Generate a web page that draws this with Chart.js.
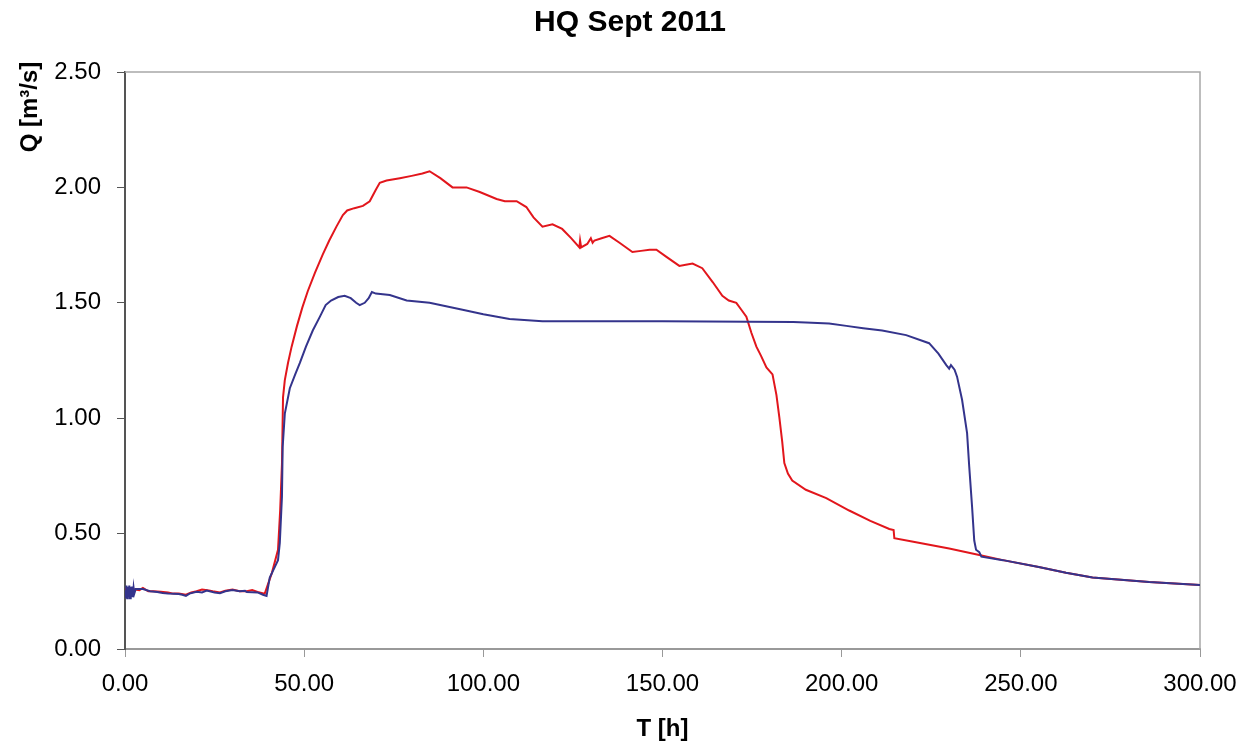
<!DOCTYPE html>
<html>
<head>
<meta charset="utf-8">
<title>HQ Sept 2011</title>
<script src="https://cdn.jsdelivr.net/npm/chart.js@4.4.1/dist/chart.umd.min.js"></script>
<style>
  html, body { margin: 0; padding: 0; background: #fff; }
  #wrap { width: 1242px; height: 744px; }
</style>
</head>
<body>
<div id="wrap"><canvas id="chartCanvas" width="1242" height="744"></canvas></div>
<script>
// Werte
const titleText = "HQ Sept 2011";
const xTitle = "T [h]";
const yTitle = "Q [m³/s]";

const redT = [0, 2, 4, 5, 6.5, 8, 10, 12, 13.5, 15, 17, 18.5, 20, 21.5, 23, 24.5, 26.5, 28, 30, 32, 34, 35.5, 37, 39, 41, 42.7, 43.3, 43.8, 44.1, 44.6,
  45.5, 46.5, 48, 49.5, 51, 53, 55.2, 57, 59, 60.8, 62, 64, 66.4, 68.3, 70, 71.1, 73, 76.7, 80, 83, 85, 88, 91.4, 95.3, 99, 103.7, 106, 109.3, 112, 114,
  116.5, 119.3, 122, 124.5, 126.8, 127, 127.3, 129, 130, 130.5, 131, 133, 135.2, 138, 141.6, 144, 146.4, 148.3, 151, 154.7, 156.5, 158.4, 161.1,
  164, 166.7, 168.5, 170.6, 172, 173.4, 174.8, 176.2, 177.5, 179, 180.7, 181.8, 182.6, 183.4, 184, 185, 186.2, 190, 195.7, 202.1, 208, 213.3,
  214.5, 214.7, 220, 230, 238.4, 245, 255, 262.6, 270, 285.8, 300];
const redQ = [0.26, 0.26, 0.255, 0.265, 0.25, 0.25, 0.248, 0.245, 0.24, 0.24, 0.235, 0.245, 0.25, 0.258, 0.255, 0.25, 0.245, 0.252, 0.258, 0.25, 0.25, 0.255, 0.247, 0.24, 0.33, 0.43, 0.6, 0.8, 1.09, 1.165,
  1.24, 1.31, 1.4, 1.48, 1.55, 1.63, 1.71, 1.77, 1.83, 1.88, 1.9, 1.91, 1.92, 1.94, 1.99, 2.02, 2.03, 2.04, 2.05, 2.06, 2.07, 2.04, 2.0, 2.0, 1.98, 1.95, 1.94, 1.94, 1.915, 1.87,
  1.83, 1.84, 1.82, 1.78, 1.74, 1.77, 1.74, 1.755, 1.78, 1.76, 1.77, 1.78, 1.79, 1.76, 1.72, 1.725, 1.73, 1.73, 1.7, 1.66, 1.665, 1.67, 1.65,
  1.59, 1.53, 1.51, 1.5, 1.47, 1.44, 1.37, 1.31, 1.27, 1.22, 1.19, 1.1, 1.005, 0.9, 0.806, 0.76, 0.73, 0.69, 0.654, 0.6, 0.555, 0.52,
  0.515, 0.48, 0.465, 0.435, 0.407, 0.385, 0.355, 0.33, 0.31, 0.29, 0.277];

const blueT = [0, 0.2, 0.4, 0.6, 0.8, 1, 1.2, 1.4, 1.6, 1.8, 2, 2.2, 2.4, 2.6, 3, 4, 5, 7, 9, 10.5, 12, 15, 16, 17, 18, 20, 21.5, 22.8, 25, 26.5, 28, 30, 32, 33.5, 34, 37, 38.5, 39.5,
  40.4, 42.7, 43.2, 43.8, 44, 44.6, 46, 47.5, 48.8, 50.5, 52.4, 54.4, 56, 57.5, 59.5, 61.3, 63, 64.5, 65.5, 66.9, 68, 68.9, 70, 73.9, 78.6, 85,
  94.2, 100, 107.3, 116.5, 150, 186.5, 190, 196.5, 201.3, 206, 211.3, 218, 224.4, 227, 229.2, 230, 230.5, 231.5, 232.2,
  233.6, 235, 235.6, 236.4, 237, 237.5, 238.4, 239, 245, 255, 262.6, 270, 285.8, 300];
const blueQ = [0.25, 0.22, 0.275, 0.22, 0.27, 0.225, 0.275, 0.22, 0.27, 0.225, 0.27, 0.225, 0.265, 0.24, 0.26, 0.26, 0.26, 0.25, 0.247, 0.243, 0.24, 0.238, 0.235, 0.23, 0.24, 0.248, 0.245, 0.253, 0.245, 0.242, 0.25, 0.256, 0.25, 0.252, 0.247, 0.245, 0.235, 0.23,
  0.31, 0.385, 0.46, 0.66, 0.875, 1.02, 1.13, 1.19, 1.24, 1.31, 1.38, 1.44, 1.49, 1.51, 1.525, 1.53, 1.52, 1.5, 1.49, 1.5, 1.52, 1.547, 1.54, 1.534, 1.51, 1.5,
  1.47, 1.45, 1.43, 1.42, 1.42, 1.417, 1.415, 1.41, 1.4, 1.39, 1.38, 1.36, 1.325, 1.28, 1.23, 1.215, 1.23, 1.21, 1.18,
  1.08, 0.935, 0.79, 0.615, 0.47, 0.43, 0.42, 0.4, 0.385, 0.355, 0.33, 0.31, 0.29, 0.277];

const xTicks = [0, 50, 100, 150, 200, 250, 300];
const yTicks = [0, 0.5, 1, 1.5, 2, 2.5];

const toPoints = (ts, qs) => ts.map((t, i) => ({ x: t, y: qs[i] }));

const fontFamily = "'Liberation Sans', Arial, sans-serif";
Chart.defaults.font.family = fontFamily;
Chart.defaults.color = "#000";

// Rahmen oben/rechts und Beschriftungen an Excel-Positionen
const frame = {
  id: "frame",
  beforeDatasetsDraw(chart) {
    const { ctx, chartArea: a } = chart;
    ctx.save();
    ctx.strokeStyle = "#a8a8a8";
    ctx.lineWidth = 1.5;
    ctx.beginPath();
    ctx.moveTo(a.left, a.top);
    ctx.lineTo(a.right, a.top);
    ctx.lineTo(a.right, a.bottom);
    ctx.stroke();
    ctx.restore();
  },
  afterDraw(chart) {
    const ctx = chart.ctx;
    ctx.save();
    ctx.fillStyle = "#000";
    ctx.textAlign = "center";
    ctx.textBaseline = "middle";
    ctx.font = "bold 30px " + fontFamily;
    ctx.fillText(titleText, 630, 23);
    ctx.translate(30, 107);
    ctx.rotate(-Math.PI / 2);
    ctx.font = "bold 24px " + fontFamily;
    ctx.fillText(yTitle, 0, 0);
    ctx.restore();
  }
};

const ctx = document.getElementById("chartCanvas").getContext("2d");
new Chart(ctx, {
  type: "line",
  data: {
    datasets: [
      {
        label: "blau",
        data: toPoints(blueT, blueQ),
        borderColor: "rgb(52,52,140)",
        borderWidth: 2,
        pointRadius: 0,
        tension: 0,
        order: 0
      },
      {
        label: "rot",
        data: toPoints(redT, redQ),
        borderColor: "rgb(226,22,28)",
        borderWidth: 2,
        pointRadius: 0,
        tension: 0,
        order: 1
      }
    ]
  },
  options: {
    responsive: false,
    animation: false,
    layout: { padding: { top: 72, left: 0, right: 42, bottom: 0 } },
    plugins: {
      legend: { display: false },
      tooltip: { enabled: false },
      title: { display: false }
    },
    scales: {
      x: {
        type: "linear",
        min: 0,
        max: 300,
        afterFit(scale) {
          scale.height = 95;
          scale.paddingLeft = 0;
          scale.paddingRight = 0;
        },
        afterBuildTicks(scale) { scale.ticks = xTicks.map(v => ({ value: v })); },
        ticks: {
          font: { size: 24 },
          padding: 13,
          callback: v => v.toFixed(2)
        },
        grid: { drawOnChartArea: false, drawTicks: true, tickLength: 8, color: "#999" },
        border: { display: true, color: "#999", width: 2 },
        title: {
          display: true,
          text: xTitle,
          font: { size: 24, weight: "bold" },
          padding: { top: 2, bottom: 0 }
        }
      },
      y: {
        min: 0,
        max: 2.5,
        afterFit(scale) {
          scale.width = 125;
          scale.paddingTop = 0;
          scale.paddingBottom = 0;
        },
        afterBuildTicks(scale) { scale.ticks = yTicks.map(v => ({ value: v })); },
        ticks: {
          font: { size: 24 },
          padding: 16,
          callback: v => v.toFixed(2)
        },
        grid: { drawOnChartArea: false, drawTicks: true, tickLength: 8, color: "#555" },
        border: { display: true, color: "#555", width: 2 }
      }
    }
  },
  plugins: [frame]
});
</script>
</body>
</html>
